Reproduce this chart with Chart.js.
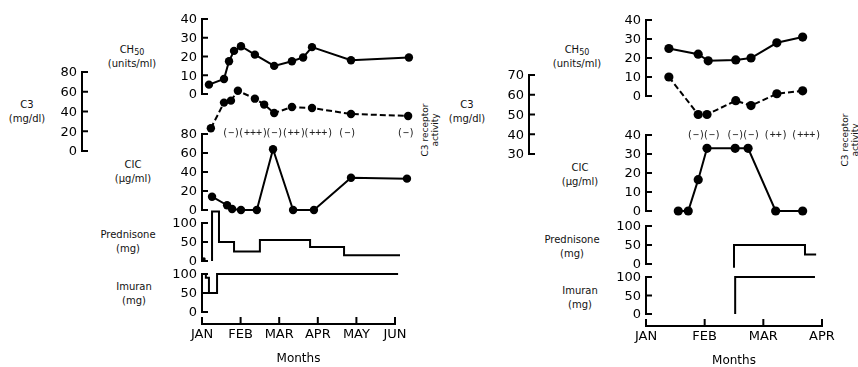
<!DOCTYPE html>
<html>
<head>
<meta charset="utf-8">
<script src="https://cdn.jsdelivr.net/npm/chart.js@4"></script>
<style>
  body { margin: 0; background: #fff; width: 858px; height: 367px; overflow: hidden; position: relative;
         font-family: 'DejaVu Sans', sans-serif; color: #111; }
  canvas { position: absolute; left: 0; top: 0; }
  .lab { position: absolute; transform: translate(-50%, -50%); text-align: center; font-size: 10px;
         line-height: 14px; white-space: nowrap; }
  .lab sub { font-size: 8px; line-height: 0; vertical-align: -2px; }
  .rot { position: absolute; transform: translate(-50%, -50%) rotate(-90deg); text-align: center;
         font-size: 9px; line-height: 10px; white-space: nowrap; }
</style>
</head>
<body>
<!-- axis names, left patient -->
<div class="lab" style="left:132px;top:57px">CH<sub>50</sub><br>(units/ml)</div>
<div class="lab" style="left:27px;top:112px">C3<br>(mg/dl)</div>
<div class="lab" style="left:133px;top:172px">CIC<br>(μg/ml)</div>
<div class="lab" style="left:128px;top:242px">Prednisone<br>(mg)</div>
<div class="lab" style="left:134px;top:294px">Imuran<br>(mg)</div>
<div class="rot" style="left:430px;top:130px">C3 receptor<br>activity</div>
<!-- axis names, right patient -->
<div class="lab" style="left:577px;top:57px">CH<sub>50</sub><br>(units/ml)</div>
<div class="lab" style="left:467px;top:112px">C3<br>(mg/dl)</div>
<div class="lab" style="left:580px;top:175px">CIC<br>(μg/ml)</div>
<div class="lab" style="left:572px;top:247px">Prednisone<br>(mg)</div>
<div class="lab" style="left:580px;top:298px">Imuran<br>(mg)</div>
<div class="rot" style="left:850px;top:140px">C3 receptor<br>activity</div>

<script>
// ---- data (x = months after 1 January) ----
const monthsLeft = ['JAN', 'FEB', 'MAR', 'APR', 'MAY', 'JUN'];
const monthsRight = ['JAN', 'FEB', 'MAR', 'APR'];

// left patient
const ch50LeftX = [0.18, 0.57, 0.70, 0.83, 1.01, 1.37, 1.87, 2.33, 2.62, 2.85, 3.86, 5.36];
const ch50LeftY = [5, 8, 17.5, 23, 25.5, 21, 15, 17.5, 19.5, 25, 18, 19.5];
const c3LeftX = [0.23, 0.57, 0.75, 0.93, 1.37, 1.61, 1.87, 2.33, 2.85, 3.86, 5.34];
const c3LeftY = [23, 49, 51, 61, 53, 47, 38.5, 44.5, 43.5, 37.5, 35.5];
const cicLeftX = [0.26, 0.65, 0.78, 1.01, 1.42, 1.84, 2.36, 2.90, 3.86, 5.31];
const cicLeftY = [14, 5, 1, 0, 0, 64, 0, 0, 34, 33];
const receptorLeft = ['(−)', '(+++)', '(−)', '(++)', '(+++)', '(−)', '(−)'];
const receptorLeftX = [0.75, 1.32, 1.87, 2.38, 3.01, 3.76, 5.28];
const predLeftX = [0.26, 0.26, 0.44, 0.83, 1.50, 2.80, 3.68, 5.13];
const predLeftY = [0, 130, 50, 25, 55, 37, 15, 15];
const predDotX = [0.05];
const predDotY = [5];
const imuranLeftX = [0, 0.10, 0.18, 0.39, 5.08];
const imuranLeftY = [100, 90, 50, 100, 100];

// right patient
const ch50RightX = [0.39, 0.89, 1.06, 1.53, 1.79, 2.23, 2.67];
const ch50RightY = [25, 22, 18.5, 19, 20, 28, 31];
const c3RightX = [0.39, 0.89, 1.04, 1.53, 1.79, 2.23, 2.67];
const c3RightY = [69, 50, 50, 57, 54.5, 60.5, 62];
const cicRightX = [0.55, 0.72, 0.89, 1.04, 1.52, 1.74, 2.21, 2.67];
const cicRightY = [0, 0, 16.5, 33, 33, 33, 0, 0];
const receptorRight = ['(−)', '(−)', '(−)', '(−)', '(++)', '(+++)'];
const receptorRightX = [0.85, 1.12, 1.52, 1.79, 2.21, 2.73];
const predRightX = [1.50, 1.50, 2.71, 2.90];
const predRightY = [-10, 50, 25, 25];
const imuranRightX = [1.52, 1.52, 2.88];
const imuranRightY = [0, 100, 100];

// ---- helpers ----
const W = 858, H = 367;
const FONT = 'DejaVu Sans';

const xy = (xs, ys) => xs.map((x, i) => ({ x: x, y: ys[i] }));

const dotLine = (data, r, dash) => ({
  data: data, borderColor: '#000', borderWidth: 2, borderDash: dash || [],
  pointRadius: r, pointBackgroundColor: '#000', pointBorderWidth: 0, tension: 0, clip: false
});
const stepLine = data => ({
  data: data, borderColor: '#000', borderWidth: 2, pointRadius: 0, stepped: true, clip: false
});

// ticks drawn inside the axes, like the original figure; y tick numbers written beside them
const inwardTicks = {
  id: 'inwardTicks',
  defaults: { len: 6 },
  afterDraw(chart, args, opts) {
    const ctx = chart.ctx, a = chart.chartArea;
    ctx.save();
    ctx.strokeStyle = '#000';
    ctx.fillStyle = '#000';
    ctx.lineWidth = 2;
    ctx.font = '13px "' + FONT + '"';
    ctx.textAlign = 'right';
    ctx.textBaseline = 'middle';
    Object.values(chart.scales).forEach(s => {
      if (!s.options.display) return;
      s.ticks.forEach(t => {
        const p = s.getPixelForValue(t.value);
        ctx.beginPath();
        if (s.axis === 'y') {
          ctx.moveTo(a.left, p); ctx.lineTo(a.left + opts.len, p);
          ctx.fillText(String(t.value), a.left - 5, p + 1);
        } else {
          ctx.moveTo(p, a.bottom); ctx.lineTo(p, a.bottom - opts.len);
        }
        ctx.stroke();
      });
    });
    ctx.restore();
  }
};

// C3 receptor activity marks, written along the top of the CIC plot
const receptorText = {
  id: 'receptorText',
  afterDraw(chart, args, opts) {
    if (!opts.labels) return;
    const ctx = chart.ctx, x = chart.scales.x;
    ctx.save();
    ctx.font = '10px "DejaVu Sans Mono"';
    ctx.fillStyle = '#222';
    ctx.textAlign = 'center';
    ctx.textBaseline = 'middle';
    opts.labels.forEach((t, i) => ctx.fillText(t, x.getPixelForValue(opts.at[i]), chart.chartArea.top + opts.dy));
    ctx.restore();
  }
};

Chart.register(inwardTicks, receptorText);

// area = [left, top, right, bottom] of the plot box in page pixels
function makeChart(area, xs, ys, datasets, extra) {
  const [l, t, r, b] = area;
  const yw = ys.display ? 40 : 0;
  const xh = xs.display ? 43 : 0;
  const cv = document.createElement('canvas');
  cv.width = W;
  cv.height = H;
  document.body.appendChild(cv);
  return new Chart(cv, {
    type: 'line',
    data: { datasets: datasets },
    options: {
      responsive: false,
      animation: false,
      events: [],
      layout: { autoPadding: false, padding: { left: l - yw, top: t, right: W - r, bottom: H - b - xh } },
      plugins: Object.assign({ legend: { display: false }, tooltip: { enabled: false } }, extra || {}),
      scales: {
        x: {
          type: 'linear', min: xs.min, max: xs.max, display: !!xs.display,
          afterFit: s => { s.height = xh; },
          grid: { display: true, drawOnChartArea: false, drawTicks: false },
          border: { display: true, color: '#000', width: 2 },
          ticks: {
            stepSize: 1, padding: 3, color: '#000', maxRotation: 0, autoSkip: false,
            font: { family: FONT, size: 13 },
            callback: v => (xs.labels || [])[v]
          },
          title: { display: !!xs.display, text: 'Months', color: '#000',
                   font: { family: FONT, size: 12 }, padding: { top: 0, bottom: 1 } }
        },
        y: {
          type: 'linear', min: ys.min, max: ys.max, display: !!ys.display,
          afterFit: s => { s.width = yw; },
          grid: { display: true, drawOnChartArea: false, drawTicks: false },
          border: { display: true, color: '#000', width: 2 },
          ticks: { display: false, stepSize: ys.step, autoSkip: false }
        }
      }
    }
  });
}

// ---- left patient (JAN..JUN) ----
// the plotted range runs a little past JUN, the drawn month axis stops at JUN
const LL = 202, LR = 395;
const pxL = (LR - LL) / 5;
const xL = { min: 0, max: 5.6 };
const LRX = LL + xL.max * pxL;
makeChart([LL, 19, LR, 94], { min: 0, max: 5 }, { min: 0, max: 40, step: 10, display: true }, []);
makeChart([LL, 19, LRX, 94], xL, { min: 0, max: 40 },
  [dotLine(xy(ch50LeftX, ch50LeftY), 4.2)]);
makeChart([LL, 72, LRX, 151], xL, { min: 0, max: 80 },
  [dotLine(xy(c3LeftX, c3LeftY), 4.2, [6, 3])]);
makeChart([82, 72, 120, 151], { min: 0, max: 1 }, { min: 0, max: 80, step: 20, display: true }, []);
makeChart([LL, 134, LRX, 210], xL, { min: 0, max: 80, step: 20, display: true },
  [dotLine(xy(cicLeftX, cicLeftY), 4.2)],
  { receptorText: { labels: receptorLeft, at: receptorLeftX, dy: -1 } });
makeChart([LL, 223, LRX, 261], xL, { min: 0, max: 100, step: 50, display: true },
  [stepLine(xy(predLeftX, predLeftY)), dotLine(xy(predDotX, predDotY), 1.8)]);
makeChart([LL, 274, LRX, 312], xL, { min: 0, max: 100, step: 50, display: true },
  [stepLine(xy(imuranLeftX, imuranLeftY))]);
makeChart([LL, 317, LR, 324], { min: 0, max: 5, display: true, labels: monthsLeft }, { min: 0, max: 1 }, [],
  { inwardTicks: { len: 7 } });

// ---- right patient (JAN..APR) ----
const RL = 646, RR = 822;
const xR = { min: 0, max: 3 };
makeChart([RL, 20, RR, 96], xR, { min: 0, max: 40, step: 10, display: true },
  [dotLine(xy(ch50RightX, ch50RightY), 4.6)]);
makeChart([RL, 75, RR, 154], xR, { min: 30, max: 70 },
  [dotLine(xy(c3RightX, c3RightY), 4.6, [6, 3])]);
makeChart([529, 75, 560, 154], { min: 0, max: 1 }, { min: 30, max: 70, step: 10, display: true }, []);
makeChart([RL, 135, RR, 211], xR, { min: 0, max: 40, step: 10, display: true },
  [dotLine(xy(cicRightX, cicRightY), 4.6)],
  { receptorText: { labels: receptorRight, at: receptorRightX, dy: 0 } });
makeChart([RL, 226, RR, 264], xR, { min: 0, max: 100, step: 50, display: true },
  [stepLine(xy(predRightX, predRightY))]);
// Imuran: axis and line on separate canvases
makeChart([RL, 277, RR, 314], xR, { min: 0, max: 100, step: 50, display: true }, []);
makeChart([RL, 277, RR, 314], xR, { min: 0, max: 100 },
  [stepLine(xy(imuranRightX, imuranRightY))]);
makeChart([RL, 319, RR, 326], { min: 0, max: 3, display: true, labels: monthsRight }, { min: 0, max: 1 }, [],
  { inwardTicks: { len: 7 } });
</script>
</body>
</html>
